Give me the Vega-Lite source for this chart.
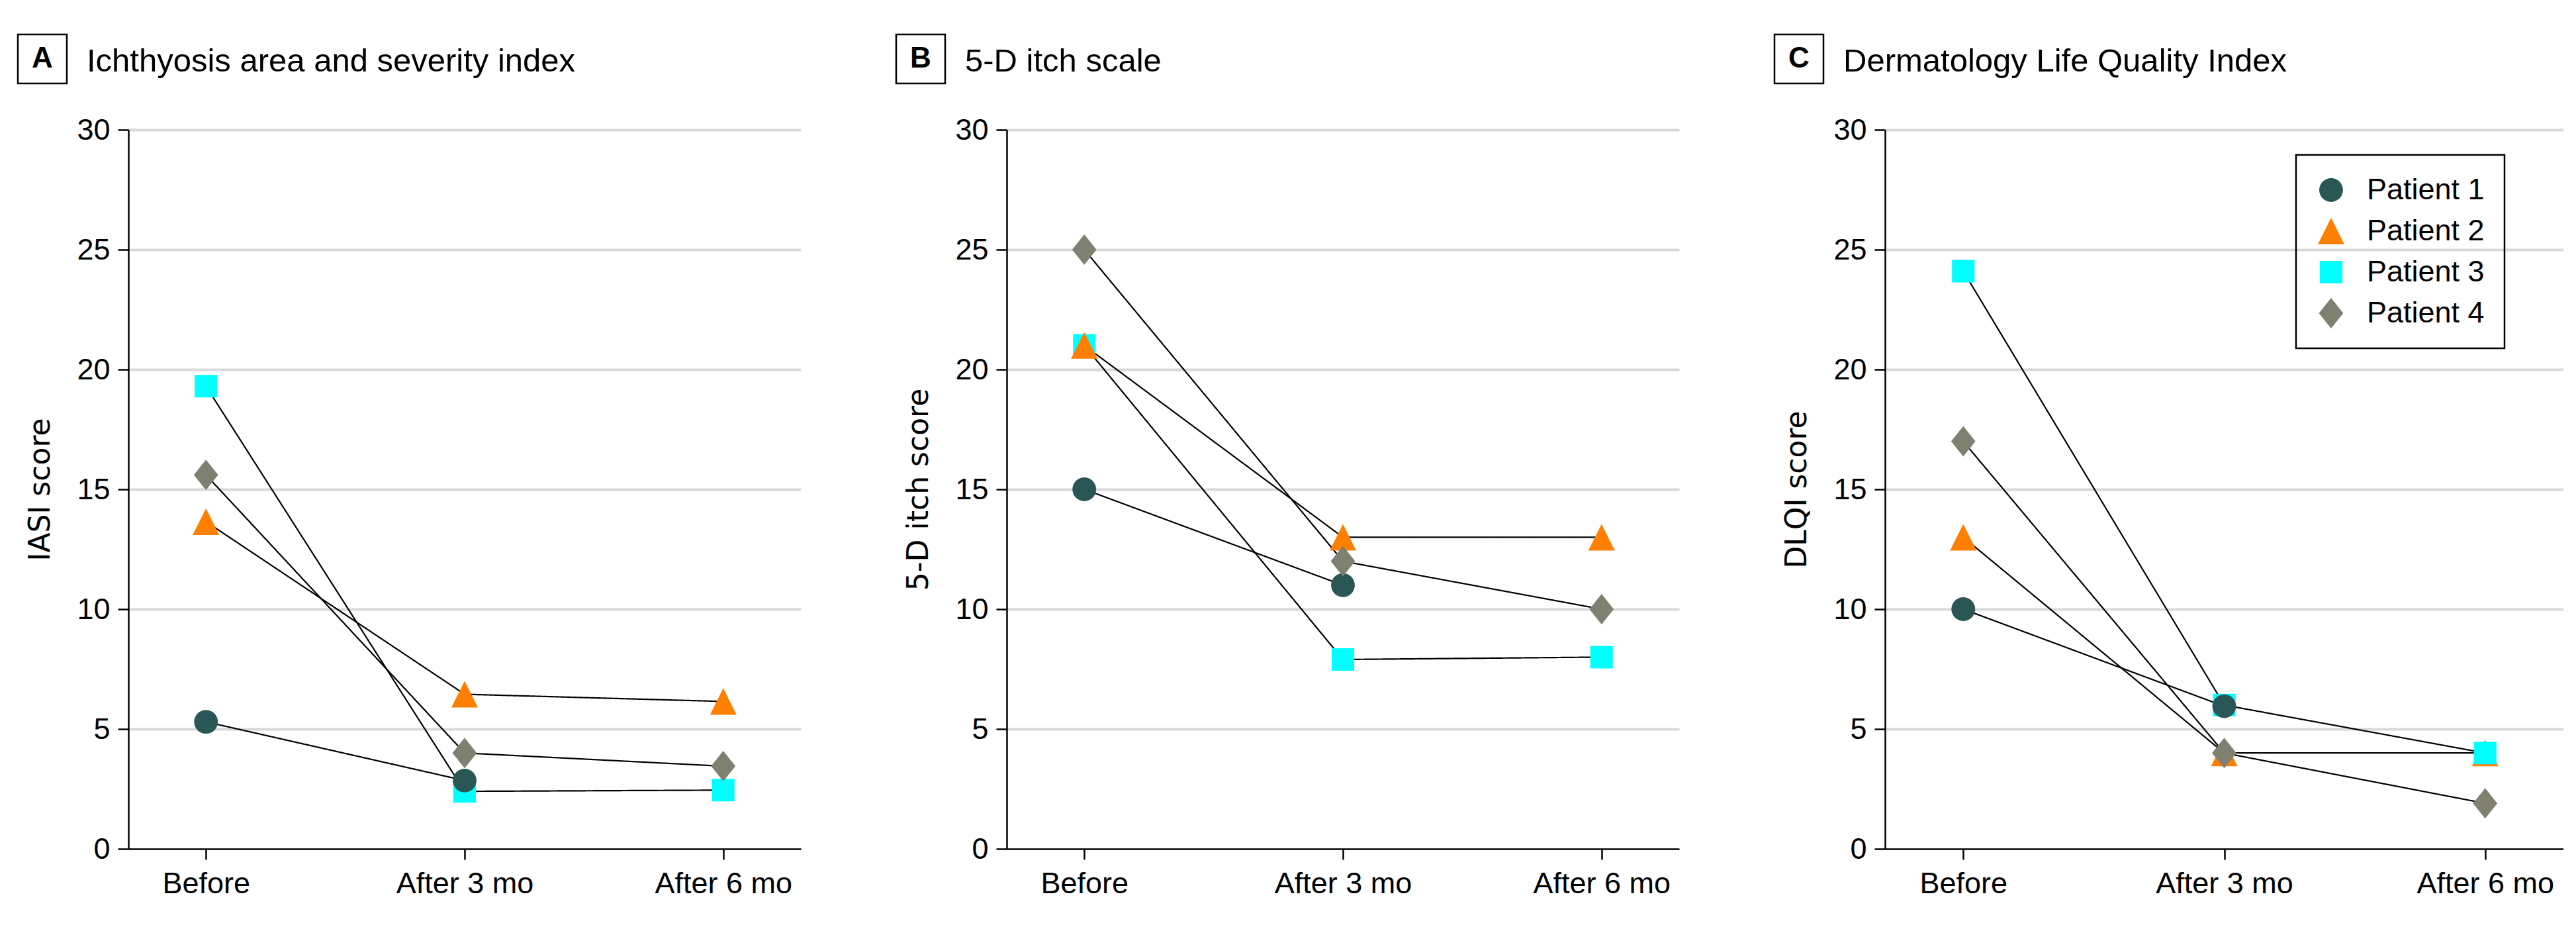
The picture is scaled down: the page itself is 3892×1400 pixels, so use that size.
{
  "$schema": "https://vega.github.io/schema/vega-lite/v6.json",
  "background": "white",
  "padding": {"left": 25, "top": 50, "right": 0, "bottom": 0},
  "data": {
    "values": [
      {"panel": "A", "patient": "Patient 3", "time": "Before", "month": 0, "score": 19.3},
      {"panel": "A", "patient": "Patient 3", "time": "After 3 mo", "month": 3, "score": 2.4},
      {"panel": "A", "patient": "Patient 3", "time": "After 6 mo", "month": 6, "score": 2.45},
      {"panel": "A", "patient": "Patient 2", "time": "Before", "month": 0, "score": 13.65},
      {"panel": "A", "patient": "Patient 2", "time": "After 3 mo", "month": 3, "score": 6.45},
      {"panel": "A", "patient": "Patient 2", "time": "After 6 mo", "month": 6, "score": 6.15},
      {"panel": "A", "patient": "Patient 1", "time": "Before", "month": 0, "score": 5.3},
      {"panel": "A", "patient": "Patient 1", "time": "After 3 mo", "month": 3, "score": 2.85},
      {"panel": "A", "patient": "Patient 4", "time": "Before", "month": 0, "score": 15.6},
      {"panel": "A", "patient": "Patient 4", "time": "After 3 mo", "month": 3, "score": 4.0},
      {"panel": "A", "patient": "Patient 4", "time": "After 6 mo", "month": 6, "score": 3.45},

      {"panel": "B", "patient": "Patient 3", "time": "Before", "month": 0, "score": 21},
      {"panel": "B", "patient": "Patient 3", "time": "After 3 mo", "month": 3, "score": 7.9},
      {"panel": "B", "patient": "Patient 3", "time": "After 6 mo", "month": 6, "score": 8.0},
      {"panel": "B", "patient": "Patient 2", "time": "Before", "month": 0, "score": 21},
      {"panel": "B", "patient": "Patient 2", "time": "After 3 mo", "month": 3, "score": 13},
      {"panel": "B", "patient": "Patient 2", "time": "After 6 mo", "month": 6, "score": 13},
      {"panel": "B", "patient": "Patient 1", "time": "Before", "month": 0, "score": 15},
      {"panel": "B", "patient": "Patient 1", "time": "After 3 mo", "month": 3, "score": 11},
      {"panel": "B", "patient": "Patient 4", "time": "Before", "month": 0, "score": 25},
      {"panel": "B", "patient": "Patient 4", "time": "After 3 mo", "month": 3, "score": 12},
      {"panel": "B", "patient": "Patient 4", "time": "After 6 mo", "month": 6, "score": 10},

      {"panel": "C", "patient": "Patient 2", "time": "Before", "month": 0, "score": 13},
      {"panel": "C", "patient": "Patient 2", "time": "After 3 mo", "month": 3, "score": 4},
      {"panel": "C", "patient": "Patient 2", "time": "After 6 mo", "month": 6, "score": 4},
      {"panel": "C", "patient": "Patient 3", "time": "Before", "month": 0, "score": 24.1},
      {"panel": "C", "patient": "Patient 3", "time": "After 3 mo", "month": 3, "score": 6},
      {"panel": "C", "patient": "Patient 3", "time": "After 6 mo", "month": 6, "score": 4},
      {"panel": "C", "patient": "Patient 1", "time": "Before", "month": 0, "score": 10},
      {"panel": "C", "patient": "Patient 1", "time": "After 3 mo", "month": 3, "score": 5.95},
      {"panel": "C", "patient": "Patient 4", "time": "Before", "month": 0, "score": 17},
      {"panel": "C", "patient": "Patient 4", "time": "After 3 mo", "month": 3, "score": 4},
      {"panel": "C", "patient": "Patient 4", "time": "After 6 mo", "month": 6, "score": 1.9}
    ]
  },
  "spacing": 142,
  "hconcat": [
    {
      "width": 1016,
      "height": 1086,
      "transform": [{"filter": "datum.panel === 'A'"}],
      "title": {"text": "Ichthyosis area and severity index", "anchor": "start", "frame": "group", "dx": -63, "dy": 106, "baseline": "alphabetic", "offset": 0},
      "encoding": {
        "x": {"field": "time", "type": "nominal", "sort": ["Before", "After 3 mo", "After 6 mo"], "scale": {"type": "point", "padding": 0.3}, "axis": {"title": null}},
        "y": {"field": "score", "type": "quantitative", "scale": {"domain": [0, 30], "nice": false, "zero": true}, "axis": {"title": "IASI score", "values": [0, 5, 10, 15, 20, 25, 30]}}
      },
      "layer": [
        {
          "mark": {"type": "line", "color": "black", "strokeWidth": 2.2},
          "encoding": {
            "detail": {"field": "patient", "type": "nominal"},
            "order": {"field": "month", "type": "quantitative"},
            "strokeDash": {"field": "panel", "type": "nominal", "scale": {"range": [[1, 0]]},
              "legend": {"title": null, "orient": "none", "legendX": -167, "legendY": -144, "strokeColor": "black", "padding": 15, "symbolType": "square", "symbolSize": 1936, "symbolOpacity": 0, "symbolStrokeWidth": 0, "labelOffset": -22, "labelAlign": "center", "labelFont": "Liberation Sans", "labelFontSize": 44, "labelFontWeight": "bold", "labelColor": "black"}}
          }
        },
        {
          "mark": {"type": "point", "filled": true, "opacity": 1, "size": 2116, "strokeWidth": 0},
          "encoding": {
            "color": {"field": "patient", "type": "nominal", "scale": {"domain": ["Patient 1", "Patient 2", "Patient 3", "Patient 4"], "range": ["#2a5656", "#ff7f00", "#00ffff", "#808070"]}, "legend": null},
            "shape": {"field": "patient", "type": "nominal", "scale": {"domain": ["Patient 1", "Patient 2", "Patient 3", "Patient 4"], "range": ["M0.78,0A0.78,0.78,0,1,1,-0.78,0A0.78,0.78,0,1,1,0.78,0Z", "M0,-0.87L0.87,0.87L-0.87,0.87Z", "M-0.74,-0.74L0.74,-0.74L0.74,0.74L-0.74,0.74Z", "M0,-1L0.8,0L0,1L-0.8,0Z"]}, "legend": null}
          }
        }
      ]
    },
    {
      "width": 1016,
      "height": 1086,
      "transform": [{"filter": "datum.panel === 'B'"}],
      "title": {"text": "5-D itch scale", "anchor": "start", "frame": "group", "dx": -63, "dy": 106, "baseline": "alphabetic", "offset": 0},
      "encoding": {
        "x": {"field": "time", "type": "nominal", "sort": ["Before", "After 3 mo", "After 6 mo"], "scale": {"type": "point", "padding": 0.3}, "axis": {"title": null}},
        "y": {"field": "score", "type": "quantitative", "scale": {"domain": [0, 30], "nice": false, "zero": true}, "axis": {"title": "5-D itch score", "values": [0, 5, 10, 15, 20, 25, 30]}}
      },
      "layer": [
        {
          "mark": {"type": "line", "color": "black", "strokeWidth": 2.2},
          "encoding": {
            "detail": {"field": "patient", "type": "nominal"},
            "order": {"field": "month", "type": "quantitative"},
            "strokeDash": {"field": "panel", "type": "nominal", "scale": {"range": [[1, 0]]},
              "legend": {"title": null, "orient": "none", "legendX": -167, "legendY": -144, "strokeColor": "black", "padding": 15, "symbolType": "square", "symbolSize": 1936, "symbolOpacity": 0, "symbolStrokeWidth": 0, "labelOffset": -22, "labelAlign": "center", "labelFont": "Liberation Sans", "labelFontSize": 44, "labelFontWeight": "bold", "labelColor": "black"}}
          }
        },
        {
          "mark": {"type": "point", "filled": true, "opacity": 1, "size": 2116, "strokeWidth": 0},
          "encoding": {
            "color": {"field": "patient", "type": "nominal", "scale": {"domain": ["Patient 1", "Patient 2", "Patient 3", "Patient 4"], "range": ["#2a5656", "#ff7f00", "#00ffff", "#808070"]}, "legend": null},
            "shape": {"field": "patient", "type": "nominal", "scale": {"domain": ["Patient 1", "Patient 2", "Patient 3", "Patient 4"], "range": ["M0.78,0A0.78,0.78,0,1,1,-0.78,0A0.78,0.78,0,1,1,0.78,0Z", "M0,-0.87L0.87,0.87L-0.87,0.87Z", "M-0.74,-0.74L0.74,-0.74L0.74,0.74L-0.74,0.74Z", "M0,-1L0.8,0L0,1L-0.8,0Z"]}, "legend": null}
          }
        }
      ]
    },
    {
      "width": 1025,
      "height": 1086,
      "transform": [{"filter": "datum.panel === 'C'"}],
      "title": {"text": "Dermatology Life Quality Index", "anchor": "start", "frame": "group", "dx": -63, "dy": 106, "baseline": "alphabetic", "offset": 0},
      "encoding": {
        "x": {"field": "time", "type": "nominal", "sort": ["Before", "After 3 mo", "After 6 mo"], "scale": {"type": "point", "padding": 0.3}, "axis": {"title": null}},
        "y": {"field": "score", "type": "quantitative", "scale": {"domain": [0, 30], "nice": false, "zero": true}, "axis": {"title": "DLQI score", "values": [0, 5, 10, 15, 20, 25, 30]}}
      },
      "layer": [
        {
          "mark": {"type": "line", "color": "black", "strokeWidth": 2.2},
          "encoding": {
            "detail": {"field": "patient", "type": "nominal"},
            "order": {"field": "month", "type": "quantitative"},
            "strokeDash": {"field": "panel", "type": "nominal", "scale": {"range": [[1, 0]]},
              "legend": {"title": null, "orient": "none", "legendX": -167, "legendY": -144, "strokeColor": "black", "padding": 15, "symbolType": "square", "symbolSize": 1936, "symbolOpacity": 0, "symbolStrokeWidth": 0, "labelOffset": -22, "labelAlign": "center", "labelFont": "Liberation Sans", "labelFontSize": 44, "labelFontWeight": "bold", "labelColor": "black"}}
          }
        },
        {
          "mark": {"type": "point", "filled": true, "opacity": 1, "size": 2116, "strokeWidth": 0},
          "encoding": {
            "color": {"field": "patient", "type": "nominal", "scale": {"domain": ["Patient 1", "Patient 2", "Patient 3", "Patient 4"], "range": ["#2a5656", "#ff7f00", "#00ffff", "#808070"]},
              "legend": {"title": null, "orient": "none", "legendX": 621, "legendY": 38, "strokeColor": "black", "padding": 30, "symbolSize": 2116, "symbolStrokeWidth": 0, "symbolOpacity": 1, "labelOffset": 31, "rowPadding": 16, "labelLimit": 400, "labelFont": "Liberation Sans", "labelFontSize": 45, "labelColor": "black"}},
            "shape": {"field": "patient", "type": "nominal", "scale": {"domain": ["Patient 1", "Patient 2", "Patient 3", "Patient 4"], "range": ["M0.78,0A0.78,0.78,0,1,1,-0.78,0A0.78,0.78,0,1,1,0.78,0Z", "M0,-0.87L0.87,0.87L-0.87,0.87Z", "M-0.74,-0.74L0.74,-0.74L0.74,0.74L-0.74,0.74Z", "M0,-1L0.8,0L0,1L-0.8,0Z"]},
              "legend": {"title": null, "orient": "none", "legendX": 621, "legendY": 38, "strokeColor": "black", "padding": 30, "symbolSize": 2116, "symbolStrokeWidth": 0, "symbolOpacity": 1, "labelOffset": 31, "rowPadding": 16, "labelLimit": 400, "labelFont": "Liberation Sans", "labelFontSize": 45, "labelColor": "black"}}
          }
        }
      ]
    }
  ],
  "resolve": {
    "scale": {"x": "independent", "y": "independent", "strokeDash": "independent", "color": "shared", "shape": "shared"},
    "legend": {"color": "independent", "shape": "independent", "strokeDash": "independent"}
  },
  "config": {
    "view": {"stroke": null},
    "font": "Liberation Sans",
    "legend": {"strokeWidth": 2.5},
    "axis": {
      "domainColor": "black", "domainWidth": 2.5, "tickColor": "black", "tickWidth": 2.5,
      "labelFont": "Liberation Sans", "labelFontSize": 45, "labelColor": "black", "labelLimit": 400,
      "titleFont": "DejaVu Sans", "titleFontSize": 44, "titleFontWeight": "normal", "titleColor": "black"
    },
    "axisY": {
      "grid": true, "gridColor": "#d9d9d9", "gridWidth": 4,
      "gridOpacity": {"condition": {"test": "datum.value === 0", "value": 0}, "value": 1},
      "tickSize": 16, "labelPadding": 12, "titlePadding": 32
    },
    "axisX": {"grid": false, "tickSize": 16, "labelPadding": 14, "labelAngle": 0},
    "title": {"font": "Liberation Sans", "fontSize": 49, "fontWeight": "normal", "color": "black"}
  }
}
